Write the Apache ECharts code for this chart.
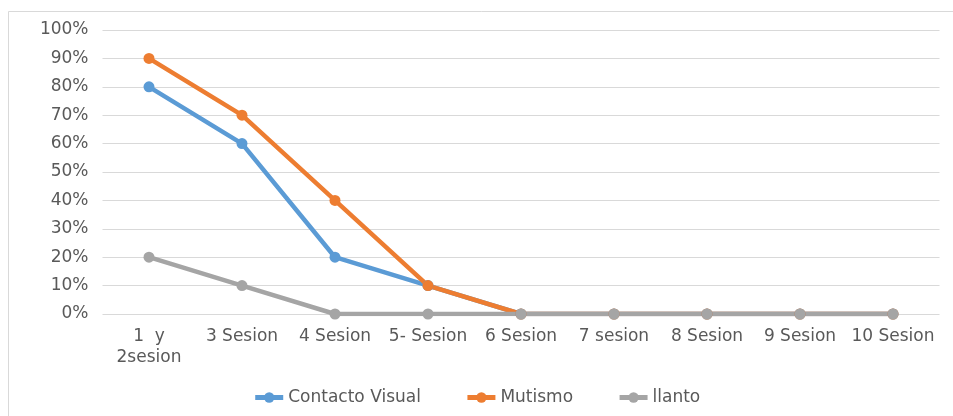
<!DOCTYPE html>
<html>
<head>
<meta charset="utf-8">
<script src="https://cdn.jsdelivr.net/npm/echarts@6/dist/echarts.min.js"></script>
<style>
  html, body { margin: 0; padding: 0; background: #fff; }
  #chart { width: 953px; height: 416px; }
</style>
</head>
<body>
<div id="chart"></div>
<script>
// Sessions on the x axis
const sessions = ['1  y\n2sesion', '3 Sesion', '4 Sesion', '5- Sesion', '6 Sesion', '7 sesion', '8 Sesion', '9 Sesion', '10 Sesion'];
// Percentage of each behaviour per session
const contactoVisual = [80, 60, 20, 10, 0, 0, 0, 0, 0];
const mutismo = [90, 70, 40, 10, 0, 0, 0, 0, 0];
const llanto = [20, 10, 0, 0, 0, 0, 0, 0, 0];
// Y axis ticks
const yTicks = [0, 10, 20, 30, 40, 50, 60, 70, 80, 90, 100];

const textColor = '#595959';
const font = 'DejaVu Sans';

function lineSeries(name, data, color) {
  return {
    name: name,
    type: 'line',
    data: data,
    symbol: 'circle',
    symbolSize: 11,
    lineStyle: { color: color, width: 4.5 },
    itemStyle: { color: color },
    emphasis: { disabled: true }
  };
}

const chart = echarts.init(document.getElementById('chart'));
chart.setOption({
  animation: false,
  backgroundColor: '#fff',
  graphic: [{
    type: 'rect',
    shape: { x: 8.5, y: 11.5, width: 1000, height: 500 },
    style: { fill: 'none', stroke: '#d9d9d9', lineWidth: 1 },
    silent: true,
    z: -1
  }],
  grid: { left: 102.5, right: 13.5, top: 30, bottom: 102 },
  legend: {
    bottom: 5,
    left: 'center',
    itemGap: 44,
    itemWidth: 28,
    itemHeight: 13,
    lineStyle: { width: 5 },
    textStyle: { color: textColor, fontFamily: font, fontSize: 17 },
    data: ['Contacto Visual', 'Mutismo', 'llanto']
  },
  xAxis: {
    type: 'category',
    data: sessions,
    boundaryGap: true,
    axisLine: { show: false },
    axisTick: { show: false },
    axisLabel: {
      color: textColor, fontFamily: font, fontSize: 17, margin: 12,
      interval: 0, lineHeight: 21
    }
  },
  yAxis: {
    type: 'value',
    min: yTicks[0],
    max: yTicks[yTicks.length - 1],
    interval: 10,
    axisLine: { show: false },
    axisTick: { show: false },
    axisLabel: {
      color: textColor, fontFamily: font, fontSize: 17, margin: 14,
      formatter: v => v + '%'
    },
    splitLine: { lineStyle: { color: '#d9d9d9', width: 1 } }
  },
  series: [
    lineSeries('Contacto Visual', contactoVisual, '#5b9bd5'),
    lineSeries('Mutismo', mutismo, '#ed7d31'),
    lineSeries('llanto', llanto, '#a5a5a5')
  ]
});
</script>
</body>
</html>
